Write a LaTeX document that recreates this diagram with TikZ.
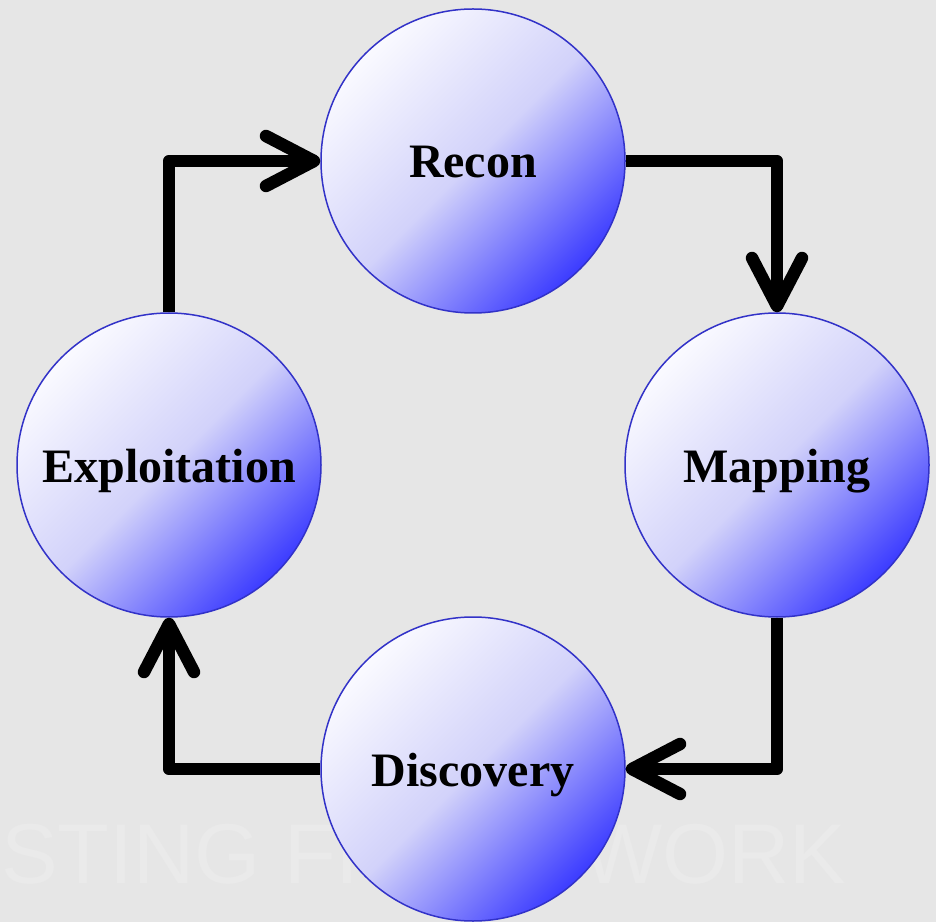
\documentclass[tikz,border=0pt]{standalone}
\usepackage{fontspec}
\setmainfont{Liberation Serif}
\newfontfamily\faintfont{Liberation Sans}
\usetikzlibrary{arrows.meta}
\definecolor{bg}{HTML}{E6E6E6}
\definecolor{faintcol}{HTML}{EAEAEA}
\definecolor{circborder}{HTML}{3232C8}
\definecolor{cTop}{HTML}{FAFAFF}
\definecolor{cMid}{HTML}{D2D2FA}
\definecolor{cBot}{HTML}{3C3CFF}
\begin{document}
\begin{tikzpicture}[x=1pt,y=1pt,
  stage/.style={circle, minimum size=304pt, inner sep=0pt,
    draw=circborder, line width=1.5pt,
    top color=cTop, bottom color=cBot, middle color=cMid, shading angle=45,
    font=\bfseries\fontsize{48}{48}\selectfont, text height=34pt, text depth=0pt},
  conn/.style={line width=12.5pt, line join=round, draw=black,
    -{Straight Barb[length=48pt, width=50pt, round]}},
  faint/.style={text=faintcol, font=\faintfont\fontsize{85}{85}\selectfont, inner sep=0pt}]
\useasboundingbox (0,0) rectangle (936,922);
\fill[bg] (0,0) rectangle (936,922);
\node[faint, anchor=base west] (wm) at (1,39) {STING FRAMEWORK};
\node[stage] (recon) at (473,761) {Recon};
\node[stage] (mapping) at (777,457) {Mapping};
\node[stage] (discovery) at (473,153) {Discovery};
\node[stage] (exploit) at (169,457) {Exploitation};
\draw[conn] (recon.east) -| (mapping.north);
\draw[conn] (mapping.south) |- (discovery.east);
\draw[conn] (discovery.west) -| (exploit.south);
\draw[conn] (exploit.north) |- (recon.west);
\end{tikzpicture}
\end{document}
